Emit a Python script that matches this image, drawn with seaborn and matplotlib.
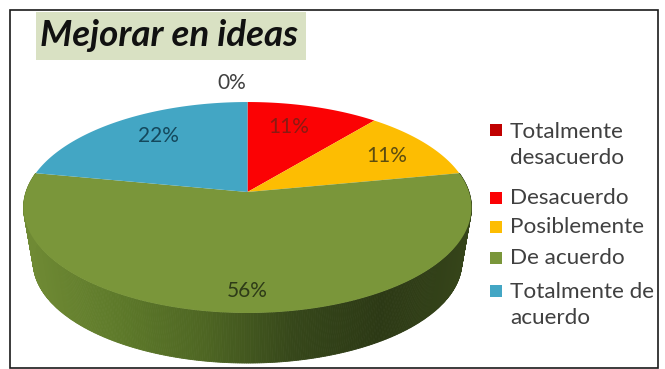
import numpy as np
import matplotlib
matplotlib.use("Agg")
import matplotlib.pyplot as plt
from matplotlib.patches import Rectangle
import seaborn as sns

# Survey responses, in drawing order (clockwise from twelve o'clock)
categories = ["Totalmente\ndesacuerdo", "Desacuerdo", "Posiblemente", "De acuerdo", "Totalmente de\nacuerdo"]
shares = [0, 11, 11, 56, 22]
percent_labels = ["0%", "11%", "11%", "56%", "22%"]
title = "Mejorar en ideas"

sns.set_theme(style="white")
plt.rcParams["font.family"] = ["Lato", "DejaVu Sans"]

slice_colors = sns.color_palette(["#c00000", "#fb0204", "#fdbd02", "#7a963a", "#43a6c4"])
label_colors = ["#404040", "#8a1a12", "#5c4c10", "#2e3b18", "#14485c"]
rim_ramp = sns.blend_palette(["#6f8a34", "#5e7a2a", "#4e6623", "#36471a", "#2c3915", "#36451a"], n_colors=200)

fig = plt.figure(figsize=(6.65, 3.69), dpi=100, facecolor="white")
ax = fig.add_axes([0, 0, 1, 1])
ax.set_xlim(0, 665)
ax.set_ylim(369, 0)
ax.axis("off")

TILT = 0.147


def project(t, cx=247.5, cy=192.0, rx=221.5, ry=103.2):
    """Map a clockwise angle on the disc to the perspective-tilted ellipse."""
    u, v = np.sin(t), np.cos(t)
    w = 1 + TILT * v
    return cx + rx * u / w, cy - ry * v / w


def lower_rim(t):
    return project(t, cx=247.5, cy=247.0, rx=212.0, ry=99.0)


edges = np.radians(np.cumsum([0] + shares) * 3.6)

# Extruded rim, painted as thin quads with a left-to-right shading ramp
rim_start, rim_end = edges[3], edges[4]
rim_angles = np.linspace(rim_start, rim_end, 400)
for a, b in zip(rim_angles[:-1], rim_angles[1:]):
    xa, ya = project(a)
    xb, yb = project(b)
    xc, yc = lower_rim(b)
    xd, yd = lower_rim(a)
    idx = int(np.clip((xa - 25) / 447 * 199, 0, 199))
    ax.fill([xa, xb, xc, xd], [ya, yb, yc, yd], color=rim_ramp[idx], lw=0.6, zorder=1)

# Top face of each slice, built from its share of the full turn
for start, end, color in zip(edges[:-1], edges[1:], slice_colors):
    ts = np.linspace(start, end, 160)
    xs, ys = project(ts)
    ax.fill(np.r_[247.5, xs], np.r_[192.0, ys], color=color, lw=0, zorder=2)

# Percentage labels
label_spots = [(232, 83), (289, 127), (387, 156), (247, 291), (158, 136)]
for text, color, (x, y) in zip(percent_labels, label_colors, label_spots):
    ax.text(x, y, text, color=color, fontsize=15, ha="center", va="center", zorder=3)

# Title on its shaded band
ax.add_patch(Rectangle((36, 12), 270, 48, facecolor="#d9e1c3", edgecolor="none", zorder=3))
ax.text(40, 35, title, fontsize=26.5, fontweight="bold", fontstyle="italic",
        color="#111111", ha="left", va="center", zorder=4)

# Legend
legend_rows = [130, 198, 227, 258, 291]
text_rows = [145, 198, 227, 258, 305]
for label, color, ym, yt in zip(categories, slice_colors, legend_rows, text_rows):
    ax.add_patch(Rectangle((490, ym - 6), 12, 12, facecolor=color, edgecolor="none", zorder=3))
    ax.text(510, yt, label, fontsize=16.2, color="#404040", ha="left", va="center",
            linespacing=1.37, zorder=3)

# Outer frame
ax.add_patch(Rectangle((10, 10), 648, 358, facecolor="none", edgecolor="#1a1a1a", lw=1.2, zorder=5))

fig.savefig("out.png", dpi=100, facecolor="white")
